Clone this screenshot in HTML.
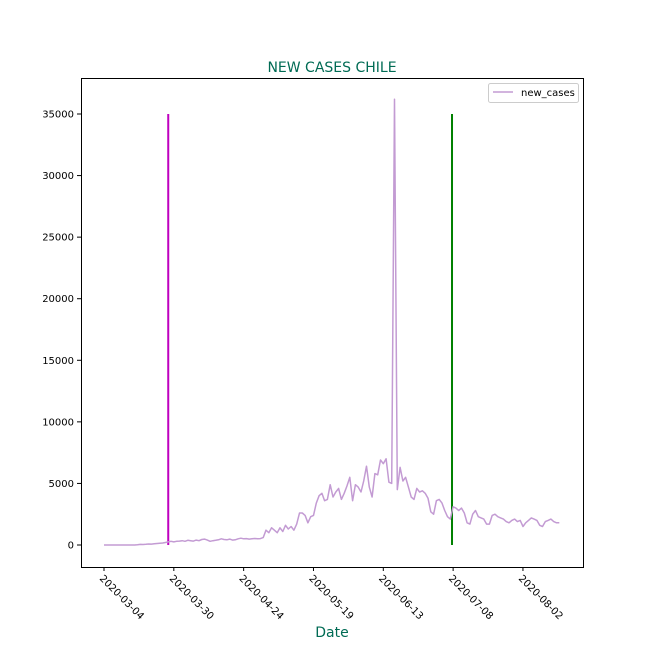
<!DOCTYPE html>
<html><head><meta charset="utf-8"><style>
body{margin:0;background:#fff;}
svg{display:block;font-family:"DejaVu Sans","Liberation Sans",sans-serif;}
</style></head><body>
<svg id="chart" width="648" height="648">
<rect x="0" y="0" width="648" height="648" fill="#fff"/>
<text x="332" y="72" text-anchor="middle" font-size="14" fill="#006b54">NEW CASES CHILE</text>
<text x="332" y="637" text-anchor="middle" font-size="14" fill="#006b54">Date</text>
<g id="yticks"></g><g id="xticks"></g><g id="marks"></g>
<rect x="81.5" y="78.5" width="502" height="489" fill="none" stroke="#000" stroke-width="1"/>
<g>
<rect x="488.5" y="83.5" width="90" height="19" rx="2" fill="#fff" stroke="#ccc"/>
<line x1="493" y1="92" x2="513" y2="92" stroke="#c39bd3" stroke-width="1.5"/>
<text x="521" y="96" font-size="10" fill="#000">new_cases</text>
</g>
</svg>
<script>
const tickLabels=["2020-03-04","2020-03-30","2020-04-24","2020-05-19","2020-06-13","2020-07-08","2020-08-02"];
const yTicks=[0,5000,10000,15000,20000,25000,30000,35000];
const newCases=[0,0,0,0,0,0,0,0,0,0,0,0,20,50,40,60,80,70,100,120,150,160,200,
250,300,250,300,320,350,300,380,350,320,400,350,450,480,400,300,350,380,420,500,450,420,480,400,420,500,550,500,520,480,500,530,500,520,600,
1200,1000,1400,1200,1000,1400,1100,1600,1300,1500,1200,1700,
2600,2600,2400,1800,2300,2400,3400,4000,4200,3600,3700,4900,3900,4300,4600,3700,4200,4800,5500,3600,4900,4700,4300,5200,6400,4700,3900,5800,5700,6900,6600,7000,5100,5000,36200,
4500,6300,5200,5500,4700,3900,3700,4600,4300,4400,4200,3800,2700,2500,3600,3700,3400,2800,2300,2100,
3100,3000,2800,3000,2600,1800,1700,2500,2800,2300,2200,2100,1700,1700,2400,2500,2300,2200,2100,1900,1800,2000,2100,1900,2000,1500,1800,2000,2200,2100,2000,1600,1500,1900,2000,2100,1900,1800,1800];
const vLineIdx=[23,124.6];
const vLineColors=["#bf00bf","#008000"];
const vLineRange=[0,35000];
const tickStep=25;
const NS="http://www.w3.org/2000/svg";
const xS=i=>104+i*2.793;
const yS=v=>545-v*(431/35000);
function mk(t,a,p){const e=document.createElementNS(NS,t);for(const k in a)e.setAttribute(k,a[k]);p.appendChild(e);return e;}
const yt=document.getElementById('yticks');
yTicks.forEach(v=>{const y=yS(v);
const l=mk('line',{x1:77,x2:81,y1:y,y2:y,stroke:'#000'},yt);


const t=mk('text',{x:74,y:y+3.5,'text-anchor':'end','font-size':10},yt);t.textContent=v;

});
const xt=document.getElementById('xticks');
tickLabels.forEach((s,k)=>{const x=xS(k*tickStep);
const l=mk('line',{x1:x,x2:x,y1:567,y2:571,stroke:'#000'},xt);


const t=mk('text',{x:0,y:0,'font-size':10,transform:`translate(${x-5},${579}) rotate(45)`},xt);t.textContent=s;

});
const g=document.getElementById('marks');
vLineIdx.forEach((i,k)=>{const ln=mk('line',{x1:xS(i),x2:xS(i),y1:yS(vLineRange[0]),y2:yS(vLineRange[1]),stroke:vLineColors[k],'stroke-width':2},g);

});
const pts=newCases.map((v,i)=>xS(i).toFixed(1)+','+yS(v).toFixed(1)).join(' ');
const pl=mk('polyline',{points:pts,fill:'none',stroke:'#c39bd3','stroke-width':1.5,'stroke-linejoin':'round'},g);


</script>
</body></html>
